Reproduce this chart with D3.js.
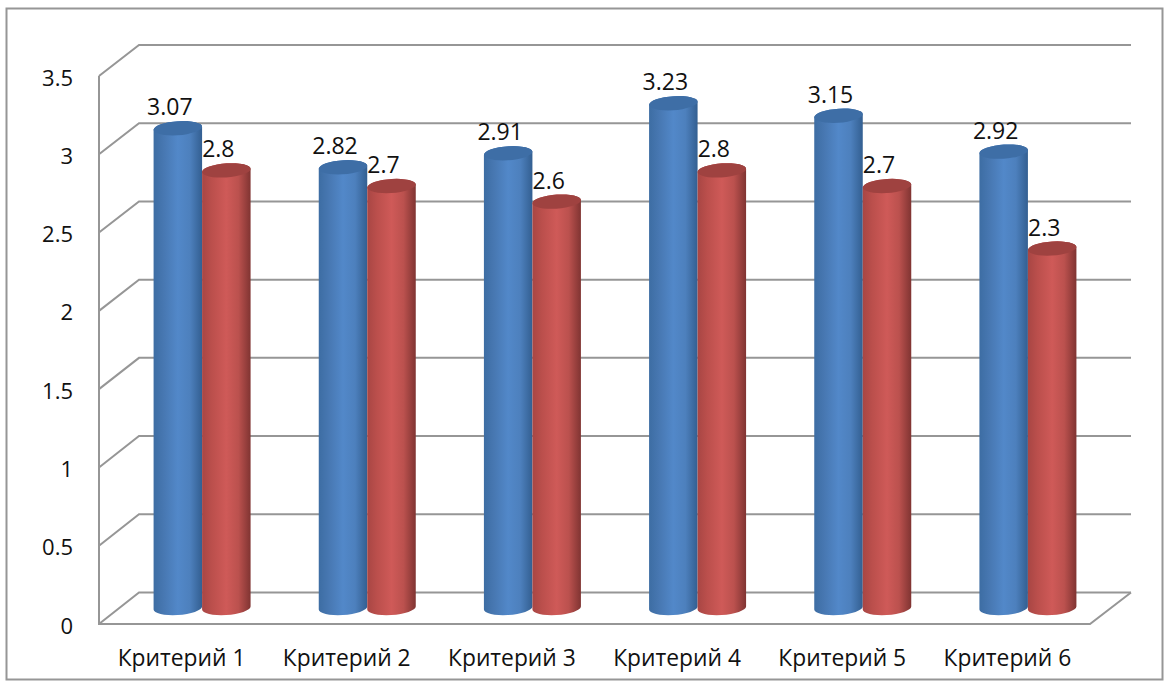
<!doctype html>
<html>
<head>
<meta charset="utf-8">
<title>Критерии</title>
<script src="https://cdn.jsdelivr.net/npm/d3@7"></script>
<style>
  html, body { margin: 0; padding: 0; background: #fff; }
  svg { display: block; }
  text { font-family: "Open Sans", "Noto Sans", sans-serif; fill: #111; }
  .tick-label { font-size: 22px; }
  .cat-label { font-size: 22.8px; }
  .val-label { font-size: 23px; }
</style>
</head>
<body>
<svg id="chart" width="1170" height="688"></svg>
<script>
var categories = ["Критерий 1", "Критерий 2", "Критерий 3", "Критерий 4", "Критерий 5", "Критерий 6"];
var series1 = [3.07, 2.82, 2.91, 3.23, 3.15, 2.92];
var series2 = [2.8, 2.7, 2.6, 2.8, 2.7, 2.3];
var yTicks = [0, 0.5, 1, 1.5, 2, 2.5, 3, 3.5];

var svg = d3.select("#chart");
var gridColor = "#969696";

// outer frame
svg.append("rect").attr("x", 6.5).attr("y", 8.5).attr("width", 1156).attr("height", 671)
  .attr("fill", "#fff").attr("stroke", gridColor).attr("stroke-width", 2);

// fake 3d: front plane, back wall, bars sit half way between
var depthX = 40;
var yFront = d3.scaleLinear().domain([0, 3.5]).range([624, 76]);
var yBack = d3.scaleLinear().domain([0, 3.5]).range([592.5, 45]);
var yBar = d3.scaleLinear().domain([0, 3.5]).range([608, 61]);
var frontLeft = 99, frontRight = 1090;

var x0 = d3.scaleBand().domain(categories).range([frontLeft + 20, frontRight + 20]);
var x1 = d3.scaleBand().domain([0, 1]).range([0, 97]);

var defs = svg.append("defs");
function gradient(id, stops) {
  var g = defs.append("linearGradient").attr("id", id);
  stops.forEach(function (s) {
    g.append("stop").attr("offset", s[0]).attr("stop-color", s[1]);
  });
}
gradient("blueBody", [[0, "#3d6da3"], [0.2, "#4777b1"], [0.5, "#5288c9"], [0.75, "#4d80bd"], [1, "#335f91"]]);
gradient("redBody", [[0, "#a84644"], [0.2, "#bb4f4c"], [0.5, "#cf5a58"], [0.75, "#bb514e"], [1, "#803432"]]);

// walls
var grid = svg.append("g").attr("fill", "none").attr("stroke", gridColor).attr("stroke-width", 2);
yTicks.forEach(function (t) {
  grid.append("path").attr("d", d3.line()([
    [frontLeft, yFront(t)], [frontLeft + depthX, yBack(t)], [frontRight + depthX + 1, yBack(t)]
  ]));
});
grid.append("path").attr("d", d3.line()([
  [frontLeft, yFront(3.5)], [frontLeft, yFront(0)], [frontRight, yFront(0)], [frontRight + depthX + 1, yBack(0)]
]));

// y axis labels
var yAxis = svg.append("g").attr("transform", "translate(" + frontLeft + ",2)")
  .call(d3.axisLeft(yFront).tickValues(yTicks).tickSize(0).tickPadding(26).tickFormat(String));
yAxis.select(".domain").remove();
yAxis.selectAll("text").attr("class", "tick-label").attr("fill", "#111");

// x axis labels
svg.append("g").selectAll("text").data(categories).join("text")
  .attr("class", "cat-label")
  .attr("x", function (d) { return x0(d) + x0.bandwidth() / 2 - 20; })
  .attr("y", 666)
  .attr("text-anchor", "middle")
  .text(function (d) { return d; });

// cylinder outline, the ellipses lean a little to the upper right
var ry = 7, lean = 1.5;
function barLeft(i, idx) {
  return x0(categories[i]) + x0.bandwidth() / 2 - 48 + x1(idx);
}
function bodyPath(l, w, top, base) {
  var r = w / 2;
  return "M" + l + "," + (top + lean) +
    "L" + l + "," + (base + lean) +
    "A" + r + "," + ry + " -4 0 0 " + (l + w) + "," + (base - lean) +
    "L" + (l + w) + "," + (top - lean) +
    "A" + r + "," + ry + " -4 0 0 " + l + "," + (top + lean) + "Z";
}
function capPath(l, w, top) {
  var r = w / 2;
  return "M" + l + "," + (top + lean) +
    "A" + r + "," + ry + " -4 1 1 " + (l + w) + "," + (top - lean) +
    "A" + r + "," + ry + " -4 1 1 " + l + "," + (top + lean) + "Z";
}

function drawSeries(values, idx, bodyFill, capFill) {
  var g = svg.append("g").attr("class", "series-" + idx);
  var bw = x1.bandwidth();
  g.selectAll("path.body").data(values).join("path")
    .attr("class", "body")
    .attr("fill", bodyFill)
    .attr("d", function (d, i) { return bodyPath(barLeft(i, idx), bw, yBar(d), yBar(0)); });
  g.selectAll("path.cap").data(values).join("path")
    .attr("class", "cap")
    .attr("fill", capFill)
    .attr("d", function (d, i) { return capPath(barLeft(i, idx), bw, yBar(d)); });
}
drawSeries(series1, 0, "url(#blueBody)", "#3e6ea6");
drawSeries(series2, 1, "url(#redBody)", "#9f4240");

// value labels go on top of everything
function drawLabels(values, idx) {
  svg.append("g").selectAll("text").data(values).join("text")
    .attr("class", "val-label")
    .attr("x", function (d, i) { return barLeft(i, idx) + x1.bandwidth() / 2 - 8; })
    .attr("y", function (d) { return yBar(d) - 13; })
    .attr("text-anchor", "middle")
    .text(String);
}
drawLabels(series1, 0);
drawLabels(series2, 1);
</script>
</body>
</html>
